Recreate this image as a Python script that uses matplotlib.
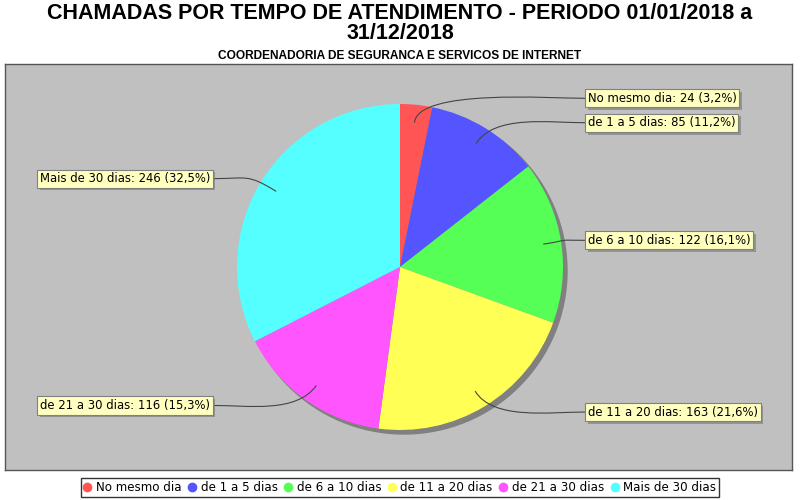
import numpy as np
import matplotlib
matplotlib.use("Agg")
import matplotlib.pyplot as plt
from matplotlib.patches import Circle
from matplotlib.path import Path
from matplotlib.patches import PathPatch
from matplotlib.lines import Line2D
import matplotlib.patheffects as pe

# data
categories = ["No mesmo dia", "de 1 a 5 dias", "de 6 a 10 dias",
              "de 11 a 20 dias", "de 21 a 30 dias", "Mais de 30 dias"]
values = [24, 85, 122, 163, 116, 246]
percents = ["3,2%", "11,2%", "16,1%", "21,6%", "15,3%", "32,5%"]
colors = ["#FF5555", "#5555FF", "#55FF55", "#FFFF55", "#FF55FF", "#55FFFF"]

title = "CHAMADAS POR TEMPO DE ATENDIMENTO - PERIODO 01/01/2018 a\n31/12/2018"
subtitle = "COORDENADORIA DE SEGURANCA E SERVICOS DE INTERNET"

fig = plt.figure(figsize=(8, 5), dpi=100)
fig.patch.set_facecolor("white")

# plot area, data units = pixels
ax = fig.add_axes([5 / 800, 30 / 500, 787 / 800, 406 / 500])
ax.set_facecolor("#C0C0C0")

cx, cy, R = 400, 233, 163

# shadow
ax.add_patch(Circle((cx + 4, cy - 4), R, color="#808080", zorder=1))

wedges, _ = ax.pie(values, colors=colors, startangle=90, counterclock=False,
                   center=(cx, cy), radius=R, frame=True,
                   wedgeprops=dict(linewidth=0, zorder=2))
for w in wedges:
    w.set_zorder(2)

ax.set_xlim(5, 792)
ax.set_ylim(30, 436)
ax.set_aspect("auto")
ax.set_xticks([])
ax.set_yticks([])
for s in ax.spines.values():
    s.set_color("#555555")
    s.set_linewidth(1)

# labels with links
total = sum(values)
cum = 0
for cat, v, p in zip(categories, values, percents):
    mid = 90 - 360 * (cum + v / 2) / total
    cum += v
    a = np.radians(mid)
    ca, sa = np.cos(a), np.sin(a)
    p0 = (cx + 0.89 * R * ca, cy + 0.89 * R * sa)
    p1 = (cx + 1.1 * R * ca, cy + 1.1 * R * sa)
    ly = cy + 1.04 * R * sa
    if ca >= 0:
        lx = cx + 185
        p2 = (lx - 35, ly)
        ha = "left"
        tx = lx + 3
    else:
        lx = cx - 187
        p2 = (lx + 35, ly)
        ha = "right"
        tx = lx - 3
    path = Path([p0, p1, p2, (lx, ly)],
                [Path.MOVETO, Path.CURVE4, Path.CURVE4, Path.CURVE4])
    ax.add_patch(PathPatch(path, fc="none", ec="#444444", lw=0.8, zorder=3))
    t = ax.text(tx, ly, f"{cat}: {v} ({p})", ha=ha, va="center",
                fontsize=8.4, family="DejaVu Sans", color="black", zorder=5,
                bbox=dict(boxstyle="square,pad=0.22", fc="#FFFFC0",
                          ec="#808080", lw=0.8))
    t.get_bbox_patch().set_path_effects(
        [pe.withSimplePatchShadow(offset=(2, -2), shadow_rgbFace="#808080", alpha=0.7)])

# titles
fig.text(0.5, 1 - 3 / 500, title, ha="center", va="top", fontsize=15.5,
         fontweight="bold", family="Liberation Sans", linespacing=0.95)
fig.text(0.5, 1 - 50 / 500, subtitle, ha="center", va="top", fontsize=8.6,
         fontweight="bold", family="Liberation Sans")

# legend
handles = [Line2D([], [], marker="o", ls="none", markersize=6,
                  markerfacecolor=c, markeredgecolor=c) for c in colors]
leg = fig.legend(handles, categories, loc="center", bbox_to_anchor=(0.5, 12.5 / 500),
                 ncol=6, frameon=True, fontsize=8.6, handlelength=0.6,
                 handletextpad=0.4, columnspacing=0.6, borderpad=0.25,
                 fancybox=False, borderaxespad=0)
leg.get_frame().set_edgecolor("black")
leg.get_frame().set_linewidth(1)

fig.savefig("out.png", dpi=100)
